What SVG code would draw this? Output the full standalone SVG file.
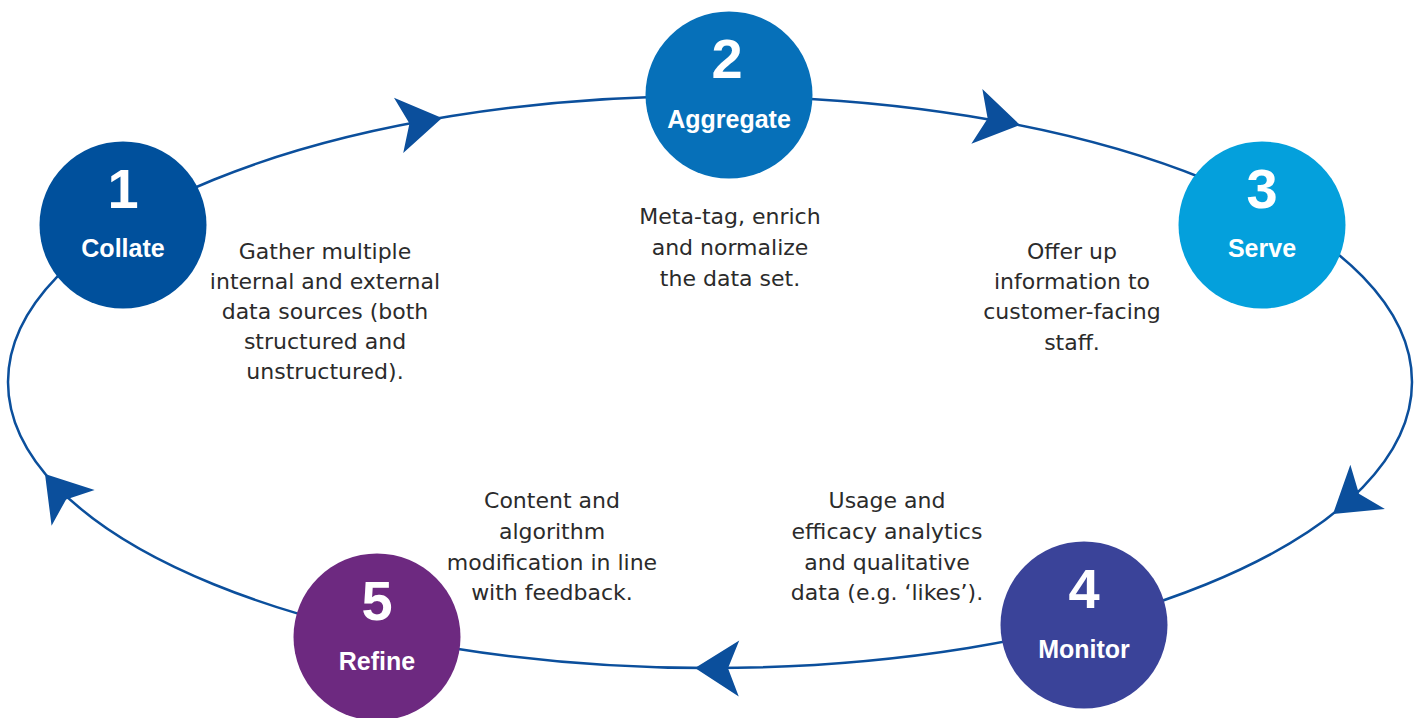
<svg xmlns="http://www.w3.org/2000/svg" width="1417" height="718" viewBox="0 0 1417 718">
  <style>
    .ring { fill: none; stroke: #0b4f9c; stroke-width: 2.5; }
    .head { fill: #0b4f9c; }
    .num { font-family: "Liberation Sans", Arial, sans-serif; font-weight: bold; font-size: 56px; fill: #ffffff; text-anchor: middle; }
    .lbl { font-family: "Liberation Sans", Arial, sans-serif; font-weight: bold; font-size: 25px; fill: #ffffff; text-anchor: middle; }
    .desc { font-family: "DejaVu Sans", "Liberation Sans", sans-serif; font-size: 22px; fill: #2b2b2b; text-anchor: middle; }
  </style>
  <defs>
    <path id="arrowhead" class="head" d="M0,0 L-44,-28 L-33,0 L-44,28 Z"/>
  </defs>
  <rect width="1417" height="718" fill="#ffffff"/>

  <g id="connectors">
    <ellipse class="ring" cx="710" cy="382" rx="702" ry="286"/>
    <use href="#arrowhead" transform="translate(442,118) rotate(-9.5)"/>
    <use href="#arrowhead" transform="translate(1020,125) rotate(11.3)"/>
    <use href="#arrowhead" transform="translate(1333,514) rotate(141.9)"/>
    <use href="#arrowhead" transform="translate(695,668) rotate(180.5)"/>
    <use href="#arrowhead" transform="translate(45,474) rotate(-129.7)"/>
  </g>

  <g id="node1">
    <circle cx="123" cy="225" r="83.5" fill="#00509c"/>
    <text class="num" x="123" y="208">1</text>
    <text class="lbl" x="123" y="257">Collate</text>
  </g>
  <g id="node2">
    <circle cx="729" cy="95" r="83.5" fill="#0670b9"/>
    <text class="num" x="727" y="78">2</text>
    <text class="lbl" x="729" y="128">Aggregate</text>
  </g>
  <g id="node3">
    <circle cx="1262" cy="225" r="83.5" fill="#04a0dc"/>
    <text class="num" x="1262" y="208">3</text>
    <text class="lbl" x="1262" y="257">Serve</text>
  </g>
  <g id="node4">
    <circle cx="1084" cy="625" r="83.5" fill="#3a4399"/>
    <text class="num" x="1084" y="608">4</text>
    <text class="lbl" x="1084" y="658">Monitor</text>
  </g>
  <g id="node5">
    <circle cx="377" cy="637" r="83.5" fill="#6d2980"/>
    <text class="num" x="377" y="620">5</text>
    <text class="lbl" x="377" y="670">Refine</text>
  </g>

  <g id="desc1">
    <text class="desc" x="325" y="259">Gather multiple</text>
    <text class="desc" x="325" y="289">internal and external</text>
    <text class="desc" x="325" y="319">data sources (both</text>
    <text class="desc" x="325" y="349">structured and</text>
    <text class="desc" x="325" y="379">unstructured).</text>
  </g>
  <g id="desc2">
    <text class="desc" x="730" y="224">Meta-tag, enrich</text>
    <text class="desc" x="730" y="255">and normalize</text>
    <text class="desc" x="730" y="286">the data set.</text>
  </g>
  <g id="desc3">
    <text class="desc" x="1072" y="259">Offer up</text>
    <text class="desc" x="1072" y="289">information to</text>
    <text class="desc" x="1072" y="319">customer-facing</text>
    <text class="desc" x="1072" y="350">staff.</text>
  </g>
  <g id="desc4">
    <text class="desc" x="887" y="508">Usage and</text>
    <text class="desc" x="887" y="539">efficacy analytics</text>
    <text class="desc" x="887" y="570">and qualitative</text>
    <text class="desc" x="887" y="600">data (e.g. ‘likes’).</text>
  </g>
  <g id="desc5">
    <text class="desc" x="552" y="508">Content and</text>
    <text class="desc" x="552" y="539">algorithm</text>
    <text class="desc" x="552" y="570">modification in line</text>
    <text class="desc" x="552" y="600">with feedback.</text>
  </g>
</svg>
